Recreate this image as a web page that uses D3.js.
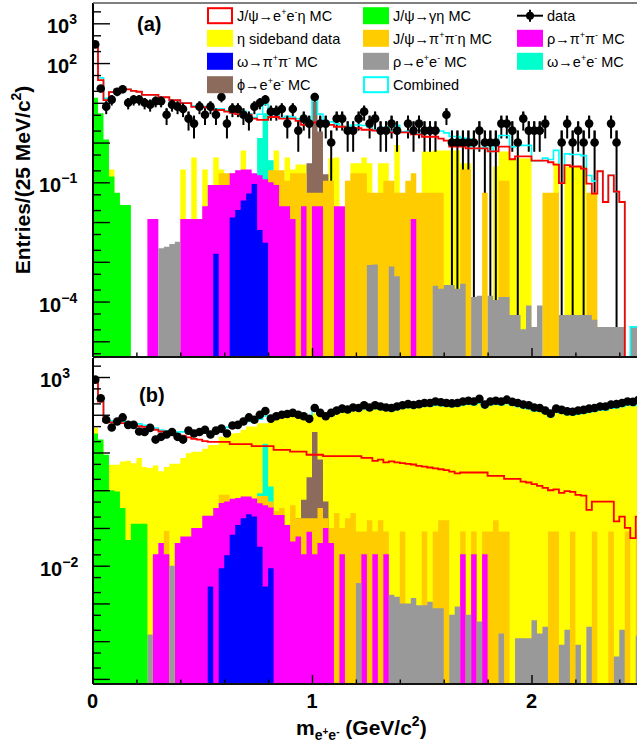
<!DOCTYPE html>
<html><head><meta charset="utf-8">
<script src="https://cdn.jsdelivr.net/npm/d3@7"></script>
<style>
body{margin:0;background:#fff;}
svg{display:block;font-family:"Liberation Sans",Arial,Helvetica,sans-serif;}
</style></head><body>
<svg id="c" width="637" height="750"></svg>
<script>
// ---------------- DATA ----------------
const binWidth = 0.025;          // GeV, 100 bins from 0 to 2.5
const nBins = 100;
const xMajorTicks = [0, 1, 2];
const xTickLabels = ["0", "1", "2"];
const yLabelExpA = [3, 2, -1, -4];
const yLabelExpB = [3, -2];

// ---- Panel (a) ----
const aData = [295,23,8,12,19,22,10,12,12,10, 9,11,11,5,9,8,7,4,3,8, 5,8,5,14,3,7,7,5,4,8,
  10,12,6,6,7,3,7,2,4,3, 14,3,3,1,4,4,2,2,4,6, 3,4,2,2,3,2,0,3,2,3, 2,2,2,0,5,1,1,1,1,1,
  2,1,1,1,3,3,2,1,4,2, 2,2,3,0,0,1,3,1,2,1, 3,1,0,0,3,1,0,0,0,0];
const aSignal = [257,37,11.7,18.6,21.9,21.9,21.9,20,19,15.8, 15.8,15.8,13.8,13.8,11.7,11.7,9.8,9.8,7.9,7.9,
  7.8,7.8,6.6,6.6,6,5.6,5.2,5.2,5,4, 3.7,3.7,4.4,4.4,4,4,4,3.5,2.8,2.8,
  3.2,3.2,2.8,2.8,2.5,2.5,2.3,2.3,2.3,2.1, 2.1,2,2,2,1.8,1.8,1.8,1.8,1.6,1.6,
  1.4,1.4,1.4,1.26,1.12,0.79,0.79,0.79,0.71,0.71, 0.71,0.71,0.6,0.6,0.79,0.79,0.38,0.45,0.45,0.45,
  0.35,0.35,0.35,0.32,0.28,0.095,0.27,0.25,0.25,0.22, 0.093,0.052,0.19,0.032,0.15,0.058,0.032,0,0,0];
const aSideband = [0,0,0,0.21,0,0,0,0,0,0, 0,0,0,0,0,0,0.21,0,0.42,0, 0.21,0,0.42,0.21,0,0,0,0.63,0,0,
  0,0,0,0.63,0,0.42,0.21,0.28,0.28,0, 0,0,0,0.4,0.42,0,0,0.3,0.3,0.42, 0.3,0,0.3,0.3,0,0.87,0,0,0,0,
  0.6,0.6,0.63,0.63,0.63,0.63,0.63,0.3,0.3,0, 0,0,0,0.25,0.6,0.6,0.4,0.4,0.4,0.4,
  0,0,0,0,0.3,0,0.25,0.25,0.25,0.25, 0,0,0,0,0,0,0,0,0,0];
const aPiPiEta = [0,0,0,0,0,0,0,0,0,0, 0,0,0,0,0,0,0,0,0,0, 0,0,0,0.17,0.17,0.17,0,0,0,0,
  0,0,0.2,0.2,0.2,0.11,0.17,0.17,0.17,0.055, 0.055,0.055,0.11,0.11,0,0,0.11,0.17,0.17,0.17,
  0.055,0.055,0.055,0.11,0.11,0.055,0.055,0.11,0.17,0.055, 0.055,0.055,0.055,0.055,0,0,0,0.21,0.21,0,
  0,0.055,0,0,0.11,0.11,0,0,0,0, 0,0,0.055,0.055,0.055,0,0,0,0,0, 0.055,0.055,0,0,0,0,0,0,0,0];
const aRhoPiPi = [0,0,0,0,0,0,0,0,0,0, 0.012,0.012,0,0,0,0,0.012,0.012,0.012,0.012,
  0.025,0.085,0.085,0.085,0.085,0.17,0.2,0.21,0.21,0.17, 0.15,0.12,0.1,0.085,0.025,0.025,0.012,0,0.025,0,
  0.025,0.025,0,0,0.025,0.025,0,0,0,0, 0,0,0,0,0,0,0,0,0.012,0,
  0,0,0,0,0,0,0,0,0,0, 0,0,0,0,0,0,0,0,0,0, 0,0,0,0,0,0,0,0,0,0, 0,0,0,0,0,0,0,0,0,0];
const aOmegaPiPi = [0,0,0,0,0,0,0,0,0,0, 0,0,0,0,0,0,0,0,0,0, 0,0,1.6e-3,0,0,0.013,0.02,0.035,0.052,0.09,
  6.3e-3,3e-3,0,0,0,0,0,0,0,0, 0,0,0,0,0,0,0,0,0,0, 0,0,0,0,0,0,0,0,0,0,
  0,0,0,0,0,0,0,0,0,0, 0,0,0,0,0,0,0,0,0,0, 0,0,0,0,0,0,0,0,0,0, 0,0,0,0,0,0,0,0,0,0];
const aRhoEE = [0,0,0,0,0,0,0,0,0,0, 0,0,2.2e-3,2.4e-3,2.8e-3,3.2e-3,0,0,0,0, 0,0,0,0,0,0,0,0,0,0,
  0,0,0,0,0,0,0,0,0,0, 0,0,0,0,0,0,0,0,0,0, 8.3e-4,8.5e-4,0,0,7.6e-4,4.3e-4,0,0,0,0,
  0,0,2.5e-4,2.1e-4,2.6e-4,2.6e-4,2.1e-4,2.8e-4,0,1.3e-4, 1.4e-4,0,1.4e-4,1.1e-4,1.3e-4,1.3e-4,4.6e-5,4.6e-5,2e-5,8e-5,
  2.3e-5,8e-5,0,0,0,4.6e-5,4.6e-5,4.6e-5,4.6e-5,4.6e-5, 4.6e-5,3.5e-5,2.3e-5,2.3e-5,2.3e-5,2.3e-5,2.3e-5,0,2.3e-5,2.3e-5];
const aOmegaEE = new Array(100).fill(0).map((_, i) => ({30: 1.3, 31: 5.5, 32: 0.36})[i] || 0);
const aPhiEE   = new Array(100).fill(0).map((_, i) => ({39: 0.3, 40: 10.7, 41: 1.9, 42: 0.16})[i] || 0);
const aGammaEta = [13.5,5.5,1.2,0.14,0.055,0.027,0.027].concat(new Array(93).fill(0));

// ---- Panel (b) ----
const bData = [851,275,74,46,66,85,54,54,36,35, 45,22,26,30,35,26,22,38,32,35, 40,30,38,43,32,52,54,66,85,74,
  100,126,79,91,100,105,112,100,91,78, 151,112,91,112,129,145,138,155,151,178,
  155,178,166,155,151,166,178,191,182,191, 204,204,224,214,204,200,204,224,234,224,
  263,186,224,234,224,251,219,204,186,178, 155,151,129,107,145,135,123,120,129,135,
  145,151,166,166,186,191,204,224,219,251];
const bSignal = [794,224,66,63,63,60,54,54,50,48, 46,40,36,32,32,30,28,25,23,22,
  20,19,19,19,19,16.6,16.6,16.6,16.6,14.8, 14.8,14.8,14.8,11.7,11.7,11.7,10.5,10.5,10.5,8.7,
  8.7,8.7,8,8,8,8,8,8,8,7.2, 7.2,6,6.5,5.5,5.8,5.5,5.2,5,4.8,4.4,
  4.2,4,3.8,3.6,3.4,3.1,2.8,2.95,2.95,2.95, 2.95,2.95,2.4,2.4,2.4,2,2,2,1.7,1.6,
  1.45,1.3,1.15,1.0,1.05,0.85,0.95,0.9,0.75,0.72, 0.3,0.5,0.5,0.5,0.5,0.15,0.2,0.1,0.054,0.2];
const bSideband = [45,20,0,4.7,4.7,5.8,6,5.2,7.1,4.1, 3.9,4.5,3.2,4.1,5,5,7.1,9.5,10.5,10.5,
  12.6,15.8,15.8,26,26,32,33,40,49,49, 60,60,63,75,79,83,88,84,77,68,
  110,90,79,88,101,116,110,123,121,138, 127,141,134,127,123,132,143,152,149,154,
  163,165,178,174,165,163,167,182,187,182, 204,154,182,187,182,198,176,165,152,143,
  127,123,108,88,116,110,101,99,105,110, 119,123,134,134,149,154,165,182,176,198];
const bPiPiEta = [0,0,0,0,0,0,0,0,0,0, 0,0,0,0.083,0,0,0,0,0,0, 0,0,0,0.76,0.76,0,0,0,0,0,
  0.7,0.7,0.5,0.28,0.34,0.12,0.4,0.18,0.18,0.18, 0.18,0.34,0.18,0.1,0.25,0.1,0.18,0.25,0.08,0.08,
  0.16,0.08,0.16,0.08,0,0,0.08,0,0,0, 0.08,0,0.08,0.16,0.16,0,0,0.08,0,0.08,
  0,0.08,0.08,0.16,0.08,0.08,0,0,0,0, 0,0,0,0.08,0.08,0,0,0.08,0,0, 0,0.08,0,0,0.08,0,0,0.08,0,0.08];
const bRhoPiPi = [0,0,0,0,0,0,0,0,0,0, 0,0.02,0.04,0.02,0,0.04,0.059,0.059,0.1,0.1,
  0.21,0.21,0.34,0.46,0.5,0.59,0.62,0.68,0.68,0.6, 0.45,0.4,0.35,0.22,0.22,0.12,0.044,0.059,0.02,0.079,
  0.02,0.04,0.1,0.04,0,0.02,0,0,0,0.02, 0,0.02,0,0.02,0,0,0,0,0,0,
  0,0,0,0,0,0,0,0.02,0,0.02, 0,0.02,0,0,0,0,0,0,0,0, 0,0,0,0,0,0,0,0,0,0, 0,0,0,0,0,0,0,0,0,0];
const bOmegaPiPi = [0,0,0,0,0,0,0,0,0,0, 0,0,0,0,0,0,0,0,0,0, 0,2.8e-3,0,8.5e-3,0.019,0.066,0.12,0.18,0.23,0.2,
  0.032,2.8e-3,8.5e-3,0,0,0,0,0,0,0, 0,0,0,0,0,0,0,0,0,0, 0,0,0,0,0,0,0,0,0,0,
  0,0,0,0,0,0,0,0,0,0, 0,0,0,0,0,0,0,0,0,0, 0,0,0,0,0,0,0,0,0,0, 0,0,0,0,0,0,0,0,0,0];
const bRhoEE = [0,0,0,0,0,0,0,0,0,0, 1.5e-4,0,0,0,0.01,0,0,0,0,0, 0,0,0,0,0,0,0,0,0,0,
  0,0,0,0,0,0,0,0,0,0, 0,0,0,0,0,0,0,0,3.5e-3,0, 0,0,0,0,1.7e-3,1.5e-3,1e-3,1e-3,1.4e-3,9e-4,
  9e-4,1.1e-3,7.4e-4,7.4e-4,0,5e-4,8.3e-4,0,5e-4,0, 3.3e-4,0,0,0,1.6e-4,0,0,1.2e-4,1.2e-4,1.2e-4,
  3.6e-4,1.6e-4,2.4e-4,0,0,8e-5,2e-4,0,8e-5,0, 2.4e-4,0,0,0,0,3.9e-5,2e-4,0,0,1.4e-4];
const bOmegaEE = new Array(100).fill(0).map((_, i) => ({30: 0.83, 31: 17, 32: 1.26, 33: 0.25})[i] || 0);
const bPhiEE   = new Array(100).fill(0).map((_, i) => ({37: 0.18, 38: 0.56, 39: 2.2, 40: 35, 41: 6.5, 42: 0.5, 43: 0.1})[i] || 0);
const bGammaEta = [32,22,8.7,1.0,0.93,0.34,0.048,0.13,0.13,0.13].concat(new Array(90).fill(0));

// ---------------- STYLE ----------------
const colors = {
  sideband: "#ffff00", pipieta: "#ffcc00", gammaeta: "#00ff00", omegapipi: "#0000ff",
  rhopipi: "#ff00ff", rhoee: "#999999", omegaee: "#00ffcc", phiee: "#8c6b5c",
  signal: "#ff0000", combined: "#00ffff", data: "#000000"
};
const drawOrder = ["sideband", "omegaee", "phiee", "pipieta", "rhopipi", "omegapipi", "rhoee", "gammaeta"];

const panels = [
  { id: "a", top: 3, bottom: 357, lmin: -5.395, lmax: 3.511, label: "(a)", labelXY: [137, 31],
    data: aData, signal: aSignal, yLabels: yLabelExpA,
    series: { sideband: aSideband, omegaee: aOmegaEE, phiee: aPhiEE, pipieta: aPiPiEta, rhopipi: aRhoPiPi,
              omegapipi: aOmegaPiPi, rhoee: aRhoEE, gammaeta: aGammaEta } },
  { id: "b", top: 358, bottom: 684, lmin: -5.135, lmax: 3.504, label: "(b)", labelXY: [139, 402],
    data: bData, signal: bSignal, yLabels: yLabelExpB,
    series: { sideband: bSideband, omegaee: bOmegaEE, phiee: bPhiEE, pipieta: bPiPiEta, rhopipi: bRhoPiPi,
              omegapipi: bOmegaPiPi, rhoee: bRhoEE, gammaeta: bGammaEta } }
];

const svg = d3.select("#c");
const xLeft = 93;
const x = d3.scaleLinear().domain([0, 2.5]).range([92.5, 641.25]);

function rich(t, str, fs) {
  const parts = str.split(/(\^\{[^}]*\}|_\{[^}]*\})/).filter(s => s.length);
  let shift = 0;
  parts.forEach(p => {
    let target = 0, txt = p, size = fs;
    if (p.startsWith("^{")) { target = -0.38 * fs; txt = p.slice(2, -1); size = 0.62 * fs; }
    else if (p.startsWith("_{")) { target = 0.3 * fs; txt = p.slice(2, -1); size = 0.62 * fs; }
    t.append("tspan").attr("dy", target - shift).attr("font-size", size).text(txt);
    shift = target;
  });
}

panels.forEach(P => {
  const y = d3.scaleLog().domain([Math.pow(10, P.lmin), Math.pow(10, P.lmax)]).range([P.bottom, P.top]);
  const yv = v => (v > 0 ? Math.min(y(v), P.bottom) : P.bottom);
  const clipId = "clip" + P.id;
  svg.append("clipPath").attr("id", clipId).append("rect")
    .attr("x", xLeft).attr("y", P.top).attr("width", 637 - xLeft).attr("height", P.bottom - P.top);
  const g = svg.append("g").attr("clip-path", `url(#${clipId})`);

  const pts = vals => {
    const a = vals.map((v, i) => ({ x: i * binWidth, v }));
    a.push({ x: nBins * binWidth, v: vals[nBins - 1] });
    return a;
  };
  const area = d3.area().curve(d3.curveStepAfter).x(d => x(d.x)).y0(P.bottom).y1(d => yv(d.v));
  const errLines = () => {
    const eg = g.append("g");
    P.data.forEach((n, i) => {
      if (n <= 0) return;
      const cx = x((i + 0.5) * binWidth), e = Math.sqrt(n);
      eg.append("line").attr("x1", cx).attr("x2", cx)
        .attr("y1", yv(n + e)).attr("y2", n - e > 0 ? yv(n - e) : P.bottom)
        .attr("stroke", "#000").attr("stroke-width", 2);
    });
  };
  drawOrder.forEach((k, idx) => {
    g.append("path").attr("d", area(pts(P.series[k]))).attr("fill", colors[k]).attr("stroke", "none");
    if (idx === 0) errLines();   // data error bars sit above the sideband fill, below the MC fills
  });

  // combined = signal + all background components
  const combined = P.signal.map((s, i) => s + drawOrder.reduce((acc, k) => acc + P.series[k][i], 0));
  const line = d3.line().curve(d3.curveStepAfter).x(d => x(d.x)).y(d => yv(d.v));
  g.append("path").attr("d", line(pts(combined))).attr("fill", "none")
    .attr("stroke", colors.combined).attr("stroke-width", 1.6);
  g.append("path").attr("d", line(pts(P.signal))).attr("fill", "none")
    .attr("stroke", colors.signal).attr("stroke-width", 1.8);

  // data markers
  const dg = g.append("g");
  P.data.forEach((n, i) => {
    if (n <= 0) return;
    const cx = x((i + 0.5) * binWidth), e = Math.sqrt(n);
    dg.append("line").attr("x1", cx).attr("x2", cx).attr("y1", yv(n + e)).attr("y2", y(n))
      .attr("stroke", "#000").attr("stroke-width", 2);
    dg.append("circle").attr("cx", cx).attr("cy", y(n)).attr("r", 4.3).attr("fill", "#000");
  });

  // axes ticks
  const decades = d3.range(Math.ceil(P.lmin), Math.floor(P.lmax) + 1).map(e => Math.pow(10, e));
  const minors = [];
  d3.range(Math.floor(P.lmin), Math.ceil(P.lmax) + 1).forEach(e => {
    [2, 5].forEach(m => { const v = m * Math.pow(10, e); if (Math.log10(v) > P.lmin && Math.log10(v) < P.lmax) minors.push(v); });
  });
  const axMaj = d3.axisRight(y).tickValues(decades).tickSize(17).tickFormat("");
  const axMin = d3.axisRight(y).tickValues(minors).tickSize(8).tickFormat("");
  [axMaj, axMin].forEach(ax => {
    const a = svg.append("g").attr("transform", `translate(${xLeft},0)`).call(ax);
    a.select(".domain").remove();
    a.selectAll("line").attr("stroke", "#000").attr("stroke-width", 1.4);
  });
  const xMinor = d3.range(0.2, 2.5, 0.2).filter(v => Math.abs(v - Math.round(v)) > 0.01);
  const xa1 = svg.append("g").attr("transform", `translate(0,${P.bottom})`)
    .call(d3.axisTop(x).tickValues(xMajorTicks).tickSize(9).tickFormat(""));
  const xa2 = svg.append("g").attr("transform", `translate(0,${P.bottom})`)
    .call(d3.axisTop(x).tickValues(xMinor).tickSize(4.5).tickFormat(""));
  [xa1, xa2].forEach(a => { a.select(".domain").remove(); a.selectAll("line").attr("stroke", "#000").attr("stroke-width", 1.4); });

  // frame
  svg.append("line").attr("x1", xLeft).attr("x2", xLeft).attr("y1", P.top).attr("y2", P.bottom)
    .attr("stroke", "#000").attr("stroke-width", 2);
  svg.append("line").attr("x1", xLeft).attr("x2", 637).attr("y1", P.bottom).attr("y2", P.bottom)
    .attr("stroke", "#111").attr("stroke-width", 2.2);
  if (P.id === "a") {
    svg.append("line").attr("x1", xLeft).attr("x2", 637).attr("y1", P.top).attr("y2", P.top)
      .attr("stroke", "#555").attr("stroke-width", 1.5);
  }

  // y tick labels
  P.yLabels.forEach(ex => {
    const yy = y(Math.pow(10, ex)) + 10;
    let x0 = ex >= 0 ? 47 : 39;
    if (P.id === "b") x0 = 40;
    const t = svg.append("text").attr("x", x0).attr("y", yy).attr("font-weight", "bold").attr("font-size", 20);
    t.append("tspan").text("10");
    t.append("tspan").attr("dy", -9).attr("font-size", 14).text(ex < 0 ? "\u2212" + (-ex) : String(ex));
  });

  svg.append("text").attr("x", P.labelXY[0]).attr("y", P.labelXY[1]).attr("font-weight", "bold")
    .attr("font-size", 20).text(P.label);
});

// x tick labels
xMajorTicks.forEach((v, i) => {
  svg.append("text").attr("x", x(v)).attr("y", 708).attr("text-anchor", "middle")
    .attr("font-weight", "bold").attr("font-size", 20).text(xTickLabels[i]);
});

// axis titles
const xt = svg.append("text").attr("x", 296).attr("y", 735).attr("font-weight", "bold").attr("font-size", 21);
xt.append("tspan").text("m");
xt.append("tspan").attr("dy", 5).attr("font-size", 14).text("e");
xt.append("tspan").attr("dy", -5).attr("font-size", 10).text("+");
xt.append("tspan").attr("dy", 5).attr("font-size", 14).text("e");
xt.append("tspan").attr("dy", -5).attr("font-size", 10).text("-");
xt.append("tspan").attr("dy", 0).attr("font-size", 21).text(" (GeV/c");
xt.append("tspan").attr("dy", -9).attr("font-size", 14).text("2");
xt.append("tspan").attr("dy", 9).attr("font-size", 21).text(")");

const yt = svg.append("text").attr("transform", "translate(30,180) rotate(-90)")
  .attr("text-anchor", "middle").attr("font-weight", "bold").attr("font-size", 21);
yt.append("tspan").text("Entries/(25 MeV/c");
yt.append("tspan").attr("dy", -9).attr("font-size", 14).text("2");
yt.append("tspan").attr("dy", 9).attr("font-size", 21).text(")");

// legend
const legendItems = [
  { key: "signal", text: "J/\u03c8\u2192e^{+}e^{-}\u03b7 MC", kind: "outline" },
  { key: "gammaeta", text: "J/\u03c8\u2192\u03b3\u03b7 MC", kind: "fill" },
  { key: "data", text: "data", kind: "marker" },
  { key: "sideband", text: "\u03b7 sideband data", kind: "fill" },
  { key: "pipieta", text: "J/\u03c8\u2192\u03c0^{+}\u03c0^{-}\u03b7 MC", kind: "fill" },
  { key: "rhopipi", text: "\u03c1\u2192\u03c0^{+}\u03c0^{-} MC", kind: "fill" },
  { key: "omegapipi", text: "\u03c9\u2192\u03c0^{+}\u03c0^{-} MC", kind: "fill" },
  { key: "rhoee", text: "\u03c1\u2192e^{+}e^{-} MC", kind: "fill" },
  { key: "omegaee", text: "\u03c9\u2192e^{+}e^{-} MC", kind: "fill" },
  { key: "phiee", text: "\u03d5\u2192e^{+}e^{-} MC", kind: "fill" },
  { key: "combined", text: "Combined", kind: "outline" }
];
const colX = [207, 363, 517];
const rowY = [15.7, 38.3, 61.3, 84.7];
const lg = svg.append("g");
legendItems.forEach((it, i) => {
  const cx = colX[i % 3], cy = rowY[Math.floor(i / 3)];
  if (it.kind === "fill") {
    lg.append("rect").attr("x", cx).attr("y", cy - 8.5).attr("width", 26).attr("height", 17).attr("fill", colors[it.key]);
  } else if (it.kind === "outline") {
    lg.append("rect").attr("x", cx + 1).attr("y", cy - 7.5).attr("width", 24).attr("height", 15)
      .attr("fill", "#fff").attr("stroke", colors[it.key]).attr("stroke-width", 2);
  } else {
    lg.append("line").attr("x1", cx).attr("x2", cx + 26).attr("y1", cy).attr("y2", cy).attr("stroke", "#000").attr("stroke-width", 2);
    lg.append("line").attr("x1", cx + 13).attr("x2", cx + 13).attr("y1", cy - 6).attr("y2", cy + 6).attr("stroke", "#000").attr("stroke-width", 2);
    lg.append("circle").attr("cx", cx + 13).attr("cy", cy).attr("r", 4).attr("fill", "#000");
  }
  const t = lg.append("text").attr("x", cx + 30).attr("y", cy + 5.3).attr("font-size", 14.5).attr("fill", "#000");
  rich(t, it.text, 14.5);
});
</script>
</body></html>
